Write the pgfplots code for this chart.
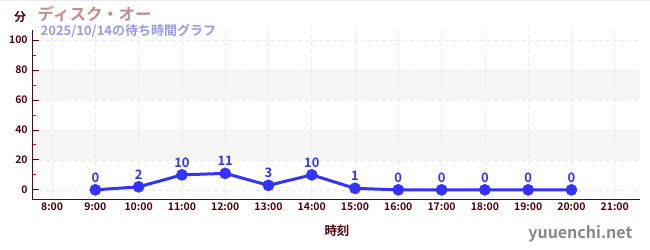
\documentclass[border=0pt]{standalone}
\usepackage{fontspec}
\setmainfont{Noto Sans CJK JP}[BoldFont={Noto Sans CJK JP Bold}]
\usepackage{pgfplots}
\pgfplotsset{compat=1.18}
\definecolor{axiscol}{RGB}{96,0,16}
\definecolor{ticklab}{RGB}{80,0,10}
\definecolor{titlecol}{RGB}{192,144,144}
\definecolor{subcol}{RGB}{153,153,238}
\definecolor{linecol}{RGB}{51,51,255}
\definecolor{bandcol}{RGB}{246,246,246}
\definecolor{gridcol}{RGB}{234,234,234}
\definecolor{wmcol}{RGB}{136,136,136}
\begin{document}
\begin{tikzpicture}
\path (0pt,0pt) rectangle (650pt,250pt);
\draw[gray!15] (0pt,249.5pt) -- (650pt,249.5pt);
\begin{axis}[
  set layers,
  at={(32pt,50pt)}, anchor=south west,
  scale only axis, width=608pt, height=170pt,
  xmin=7.54, xmax=21.58, ymin=-6.7, ymax=106.7,
  axis x line*=bottom, axis y line*=left,
  axis line style={axiscol, line width=1pt, -},
  xtick={8,...,21},
  xticklabels={8:00,9:00,10:00,11:00,12:00,13:00,14:00,15:00,16:00,17:00,18:00,19:00,20:00,21:00},
  ytick={0,20,40,60,80,100},
  minor ytick={10,30,50,70,90},
  major x tick style={draw=none},
  major y tick style={axiscol, line width=0.8pt},
  minor y tick style={red, line width=0.8pt},
  major tick length=7pt, minor tick length=4pt,
  ymajorgrids, xmajorgrids,
  major grid style={gridcol, dash pattern=on 4pt off 3pt, line width=0.6pt},
  /pgf/number format/assume math mode=true,
  ticklabel style={font=\fontsize{10.5}{12}\selectfont\bfseries, text=ticklab},
  yticklabel style={xshift=-1pt},
  xticklabel style={yshift=1pt},
  clip=false,
]
\addplot[fill=bandcol, draw=none, on layer=axis background] coordinates {(7.54,20) (21.58,20) (21.58,40) (7.54,40)} -- cycle;
\addplot[fill=bandcol, draw=none, on layer=axis background] coordinates {(7.54,60) (21.58,60) (21.58,80) (7.54,80)} -- cycle;
\addplot[linecol, line width=3pt, mark=*, mark size=5.6pt, mark options={solid, line width=0.5pt},
  nodes near coords, point meta=y,
  every node near coord/.append style={font=\fontsize{13}{15}\selectfont\bfseries, text=linecol, yshift=4pt},
  nodes near coords style={/pgf/number format/.cd, fixed, precision=0, assume math mode=true}]
coordinates {(9,0) (10,2) (11,10) (12,11) (13,3) (14,10) (15,1) (16,0) (17,0) (18,0) (19,0) (20,0)};
\end{axis}
\node[font=\fontsize{12}{14}\selectfont\bfseries, text=ticklab] at (20pt,233pt) {分};
\node[anchor=west, font=\fontsize{16.5}{18}\selectfont\bfseries, text=titlecol] at (34pt,236pt) {ディスク・オー};
\node[anchor=west, font=\fontsize{13}{15}\selectfont\bfseries, text=subcol] at (37pt,219pt) {2025/10/14の待ち時間グラフ};
\node[font=\fontsize{12.5}{14}\selectfont\bfseries, text=ticklab] at (337pt,19pt) {時刻};
\node[anchor=east, font=\fontsize{16}{18}\selectfont\bfseries, text=wmcol] at (636pt,16pt) {yuuenchi.net};
\end{tikzpicture}
\end{document}
